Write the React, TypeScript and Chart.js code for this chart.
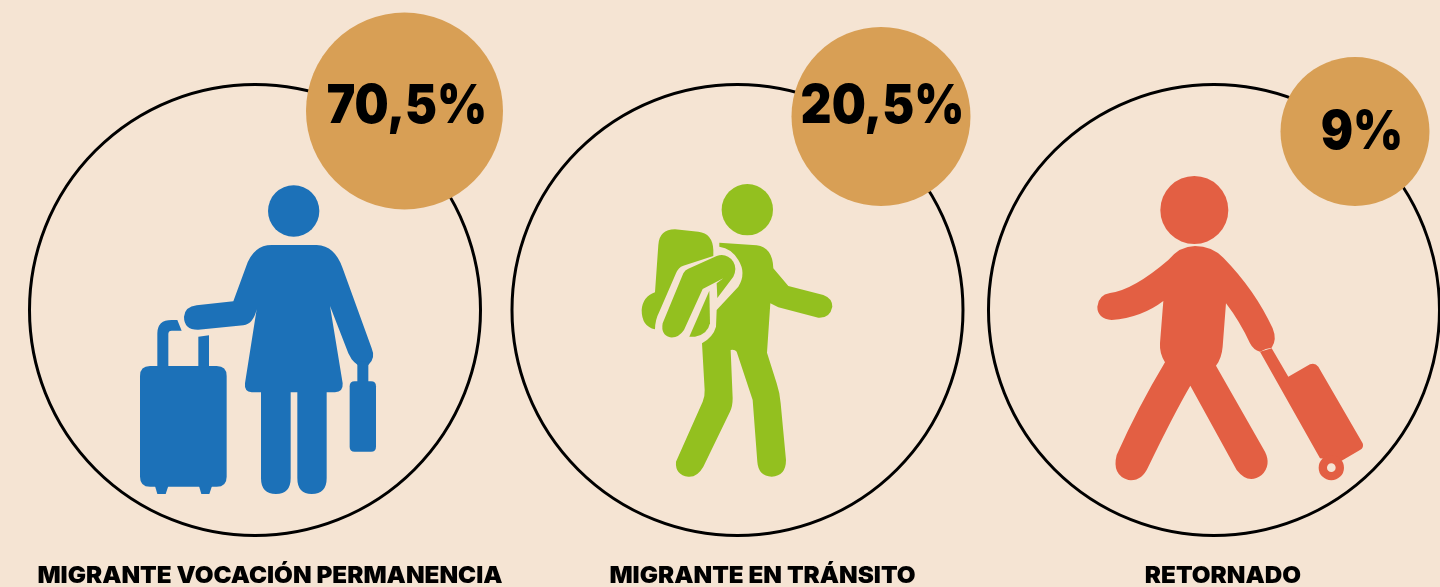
import React, { useEffect, useRef } from "react";
import { Chart, registerables } from "chart.js";

Chart.register(...registerables);

const categories = ["MIGRANTE VOCACIÓN PERMANENCIA", "MIGRANTE EN TRÁNSITO", "RETORNADO"];
const shares = [70.5, 20.5, 9];

const BG = "#F5E4D3";
const BADGE = "#D89F55";
const iconColors = ["#1C71B8", "#93C01F", "#E35F43"];

// layout (scale units: x 1 = one column, y 1 = one pixel from the ring centre line)
const ringOffset = [0, 1.0052, 1.9979];
const ringR = 225.5;
const badgeDx = [149.5, 143.5, 141];
const badgeDy = [199, 193.5, 178.5];
const badgeR = [98.5, 89.5, 74.5];
const valueCx = [152, 145, 148];
const valueCy = [203.5, 203.5, 177];
const labelDx = [15, 25, 9];
const labelY = -273;
const COLUMN = 480;

type Shape = { d: string; rule?: CanvasFillRule };
const iconOrigin = [
  [-135, -140],
  [-117.5, -140],
  [-134, -145],
];
const icons: Shape[][] = [
  [
    { d: "M444 123a77 77 0 1 0 154 0a77 77 0 1 0 -154 0Z" },
    { d: "M455 225 L590 225 Q645 227 668 295 L755 535 Q768 565 745 585 Q720 600 695 568 L685 550 L630 408 L668 640 Q670 666 645 667 L620 667 L620 925 Q620 972 575 972 Q532 972 532 925 L532 667 L512 667 L512 925 Q512 972 468 972 Q423 972 423 925 L423 667 L395 667 Q372 665 375 640 L410 418 Q400 462 370 466 L235 479 Q192 480 192 440 Q195 410 230 406 L340 394 L378 290 Q400 225 455 225 Z" },
    { d: "M712 575 L745 575 L745 640 L712 640 Z" },
    { d: "M704 634 L753 634 Q768 634 768 649 L768 830 Q768 845 753 845 L704 845 Q689 845 689 830 L689 649 Q689 634 704 634 Z" },
    { d: "M90 588 L290 588 Q320 588 320 618 L320 920 Q320 950 290 950 L90 950 Q60 950 60 920 L60 618 Q60 588 90 588 Z" },
    { d: "M105 948 L112 972 L137 972 L145 948 Z" },
    { d: "M237 948 L244 972 L268 972 L276 948 Z" },
    { d: "M235 500 L267 496 L267 592 L235 592 Z" },
    { d: "M112 592 L112 490 Q112 450 155 450 L172 450 L185 482 L155 482 Q145 482 145 492 L145 592 Z" },
  ],
  [
    { d: "M305 119a77 77 0 1 0 154 0a77 77 0 1 0 -154 0Z" },
    { d: "M298 218 L410 226 Q458 232 460 295 L505 348 L610 375 Q637 385 637 410 Q630 445 595 443 L475 412 L451 400 L441 548 L470 640 Q480 670 482 700 L498 870 Q498 918 455 920 Q415 918 412 875 L398 690 L350 545 Q345 538 332 540 L338 685 Q338 710 330 725 L250 890 Q232 922 205 920 Q165 915 168 875 L248 695 Q255 680 254 660 L246 520 Q280 500 288 470 L290 420 L355 350 Q380 310 355 270 Q335 235 298 230 Z" },
    { d: "M115 225 Q118 178 165 178 L235 185 Q278 190 280 240 L280 258 L190 287 Q175 292 168 310 L118 425 Q105 450 105 478 Q65 470 65 420 Q68 380 105 367 Z" },
    { d: "M190 310 Q195 300 205 296 L290 258 Q320 248 340 275 Q352 295 340 320 L292 384 L290 340 L310 325 L248 357 L192 480 Q175 505 150 502 Q122 495 128 460 Z" },
    { d: "M208 500 L268 362 L270 460 Q262 495 225 500 Z" },
  ],
  [
    { d: "M241 135a102 102 0 1 0 204 0a102 102 0 1 0 -204 0Z" },
    { d: "M345 243 Q395 243 430 278 Q525 375 578 490 Q592 525 575 548 Q558 550 540 560 Q520 555 510 535 Q480 470 438 415 L428 545 Q425 580 408 602 L555 860 Q575 900 545 930 Q505 960 470 915 L331 662 Q280 750 205 905 Q185 950 145 945 Q95 930 110 870 Q175 725 255 592 Q238 565 240 535 L250 408 Q185 458 95 465 Q52 460 52 425 Q55 390 90 384 Q160 375 265 285 Q300 243 345 243 Z" },
    { d: "M575 550 L625 635 L690 598 Q705 592 715 605 L848 835 Q853 848 840 855 L785 887 L720 880 L540 560 Z" },
    { d: "M716 908a38 38 0 1 0 76 0a38 38 0 1 0 -76 0Z M741 908a13 13 0 1 0 26 0a13 13 0 1 0 -26 0Z", rule: "evenodd" },
  ],
];

const stretchedText = (ctx: CanvasRenderingContext2D, text: string, px: number, py: number, sx: number) => {
  ctx.save();
  ctx.translate(px, py);
  ctx.scale(sx, 1);
  ctx.fillText(text, 0, 0);
  ctx.restore();
};

const artPlugin = {
  id: "art",
  afterDatasetsDraw(chart: any) {
    const { ctx, scales } = chart;
    const x = scales.x;
    const y = scales.y;
    ctx.save();
    categories.forEach((name, i) => {
      const cx = x.getPixelForValue(ringOffset[i]);
      const cy = y.getPixelForValue(0);
      // pictogram
      ctx.save();
      ctx.translate(cx + iconOrigin[i][0], cy + iconOrigin[i][1]);
      ctx.scale(1 / 3, 1 / 3);
      ctx.fillStyle = iconColors[i];
      icons[i].forEach((s) => ctx.fill(new Path2D(s.d), s.rule || "nonzero"));
      ctx.restore();
      // share value
      ctx.fillStyle = "#000";
      ctx.textAlign = "center";
      ctx.textBaseline = "middle";
      ctx.font = '900 54px "Inter"';
      const text = String(shares[i]).replace(".", ",") + "%";
      stretchedText(ctx, text, cx + valueCx[i], y.getPixelForValue(valueCy[i]), 0.89);
      // category label
      ctx.textBaseline = "alphabetic";
      ctx.font = '900 23px "Inter"';
      stretchedText(ctx, name, cx + labelDx[i], y.getPixelForValue(labelY), 1.055);
    });
    ctx.restore();
  },
};

export default function App() {
  const ref = useRef<HTMLCanvasElement | null>(null);
  useEffect(() => {
    if (!ref.current) return;
    const chart = new Chart(ref.current, {
      type: "bubble",
      data: {
        datasets: [
          {
            label: "ring",
            order: 2,
            clip: false as any,
            data: categories.map((_, i) => ({ x: ringOffset[i], y: 0, r: ringR })),
            backgroundColor: "rgba(0,0,0,0)",
            borderColor: "#000",
            borderWidth: 3,
          },
          {
            label: "share",
            order: 1,
            clip: false as any,
            data: shares.map((_, i) => ({
              x: ringOffset[i] + badgeDx[i] / COLUMN,
              y: badgeDy[i],
              r: badgeR[i],
            })),
            backgroundColor: BADGE,
            borderColor: BADGE,
            borderWidth: 0,
          },
        ],
      },
      options: {
        responsive: false,
        animation: false,
        layout: { padding: 0, autoPadding: false },
        plugins: { legend: { display: false }, tooltip: { enabled: false } },
        events: [],
        scales: {
          x: { type: "linear", display: false, min: -255 / COLUMN, max: (1440 - 255) / COLUMN },
          y: { type: "linear", display: false, min: -277, max: 310 },
        },
      },
      plugins: [artPlugin],
    } as any);
    return () => chart.destroy();
  }, []);
  return (
    <div style={{ position: "absolute", left: 0, top: 0, width: 1440, height: 587, background: BG, overflow: "hidden" }}>
      <canvas ref={ref} width={1440} height={587} style={{ display: "block" }} />
    </div>
  );
}
